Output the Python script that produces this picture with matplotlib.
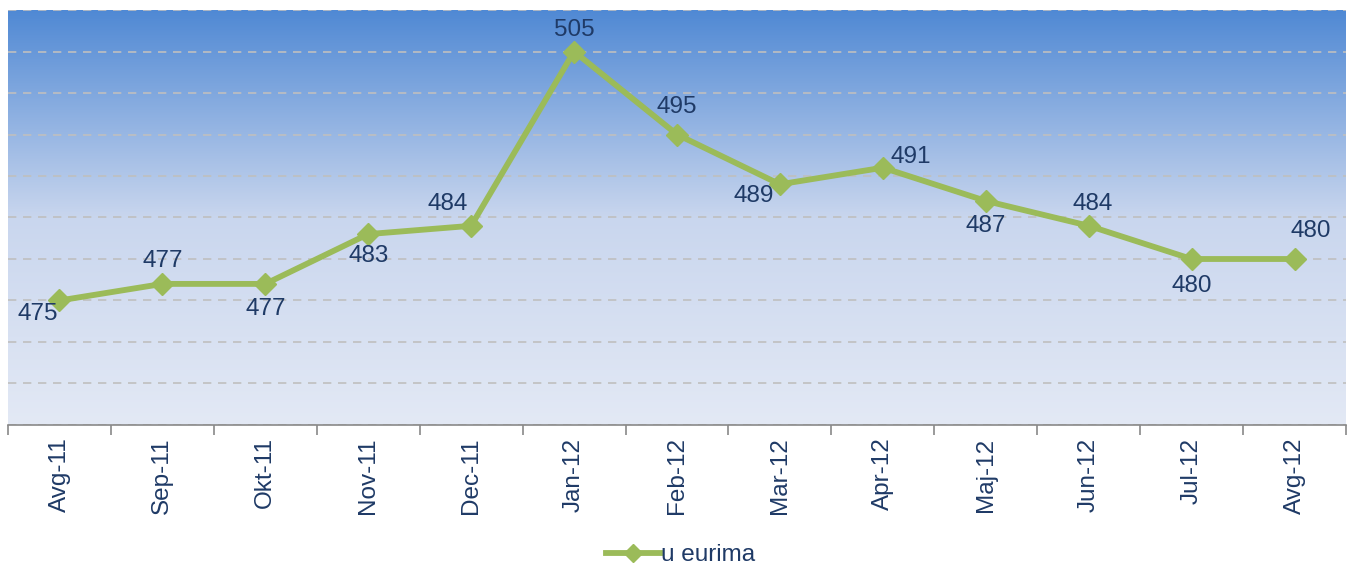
import numpy as np
import matplotlib
matplotlib.use('Agg')
import matplotlib.pyplot as plt
from matplotlib.colors import LinearSegmentedColormap

plt.rcParams['font.family'] = ['Liberation Sans', 'DejaVu Sans']

months = ['Avg-11', 'Sep-11', 'Okt-11', 'Nov-11', 'Dec-11', 'Jan-12', 'Feb-12',
          'Mar-12', 'Apr-12', 'Maj-12', 'Jun-12', 'Jul-12', 'Avg-12']
values = [475, 477, 477, 483, 484, 505, 495, 489, 491, 487, 484, 480, 480]
# label offsets in pixels (dx, dy)
offsets = [(-22, -14), (0, 23), (0, -25), (0, -22), (-23, 22), (0, 22), (0, 28),
           (-26, -12), (28, 11), (0, -25), (4, 22), (0, -27), (16, 28)]

text_col = '#1F3A66'
line_col = '#9BBB59'

fig = plt.figure(figsize=(13.48, 5.66), dpi=100)
ax = fig.add_axes([8/1348, 1-425/566, 1338/1348, 415/566])

# gradient background
cmap = LinearSegmentedColormap.from_list('bg', ['#E3E9F5', '#C9D6EE', '#5089D4'])
grad = np.linspace(0, 1, 256).reshape(-1, 1)
ax.imshow(grad, extent=[0, 1, 0, 1], transform=ax.transAxes, origin='lower',
          cmap=cmap, aspect='auto', zorder=0)

x = np.arange(len(months))
ax.set_xlim(-0.5, len(months) - 0.5)
ax.set_ylim(460, 510)
ax.set_yticks(np.arange(460, 511, 5))
ax.yaxis.grid(True, color='#BFBFBF', linestyle=(0, (5, 4)), linewidth=1.2, zorder=1)
ax.tick_params(axis='y', length=0, labelleft=False)

ax.plot(x, values, color=line_col, linewidth=4.2, marker='D', markersize=11,
        zorder=3, label='u eurima')

for xi, v, (dx, dy) in zip(x, values, offsets):
    ax.annotate(str(v), (xi, v), xytext=(dx, dy), textcoords='offset pixels',
                ha='center', va='center', fontsize=17.5, color=text_col, zorder=4)

ax.set_xticks(x)
ax.set_xticklabels(months, rotation=90, fontsize=17.5, color=text_col)
ax.set_xticks(np.arange(-0.5, len(months), 1), minor=True)
ax.tick_params(axis='x', which='major', length=0, pad=9)
ax.tick_params(axis='x', which='minor', length=7, width=1.2, color='#898989')

for s in ['top', 'left', 'right']:
    ax.spines[s].set_visible(False)
ax.spines['bottom'].set_color('#898989')
ax.spines['bottom'].set_linewidth(1.2)

fig.legend(loc='center', bbox_to_anchor=(0.505, 1-555/566), frameon=False,
           fontsize=17.5, labelcolor=text_col, handlelength=2.2, handletextpad=0.05,
           markerscale=0.8)

fig.savefig('out.png', dpi=100)
